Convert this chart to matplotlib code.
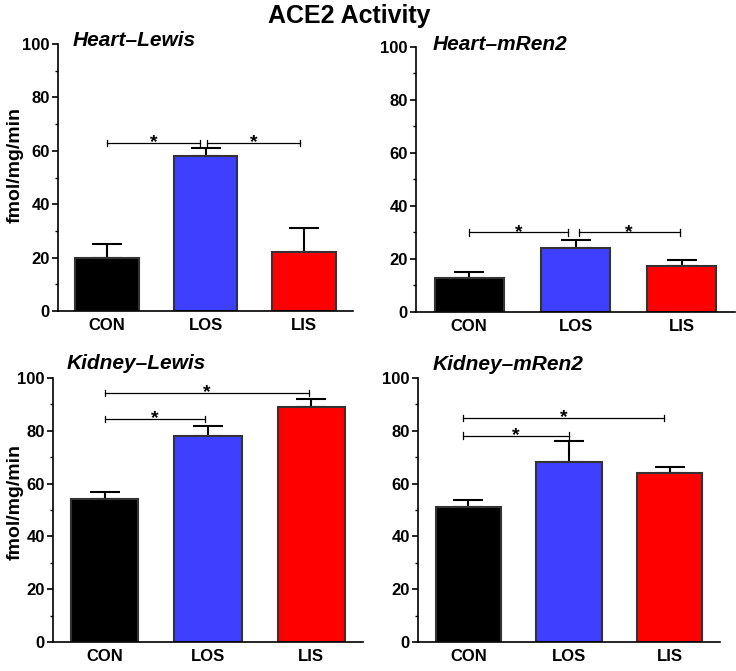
import matplotlib
matplotlib.use("Agg")
import matplotlib.pyplot as plt
from matplotlib.ticker import MultipleLocator

plt.rcParams['font.family'] = ['Liberation Sans', 'DejaVu Sans']

groups = ["CON", "LOS", "LIS"]
colors = ["#000000", "#3F3FFF", "#FF0000"]

panel_titles = ["Heart\u2013Lewis", "Heart\u2013mRen2", "Kidney\u2013Lewis", "Kidney\u2013mRen2"]

heart_lewis_mean = [20, 58, 22]
heart_lewis_err = [5, 3, 9]
heart_mren2_mean = [13, 24, 17.3]
heart_mren2_err = [2.2, 3, 2.3]
kidney_lewis_mean = [54, 78, 89]
kidney_lewis_err = [3, 4, 3]
kidney_mren2_mean = [51, 68, 64]
kidney_mren2_err = [2.7, 8.3, 2.2]

# significance brackets: (start group, end group, height)
heart_lewis_sig = [(0, 0.94, 63), (1.02, 1.96, 63)]
heart_mren2_sig = [(0, 0.93, 30), (1.03, 1.98, 30)]
kidney_lewis_sig = [(0, 0.97, 84.5), (0, 1.98, 94.3)]
kidney_mren2_sig = [(-0.05, 1.0, 78.2), (-0.05, 1.94, 84.8)]

means = [heart_lewis_mean, heart_mren2_mean, kidney_lewis_mean, kidney_mren2_mean]
errs = [heart_lewis_err, heart_mren2_err, kidney_lewis_err, kidney_mren2_err]
sigs = [heart_lewis_sig, heart_mren2_sig, kidney_lewis_sig, kidney_mren2_sig]

W, H = 736, 671
fig = plt.figure(figsize=(W / 100, H / 100), dpi=100)

# axes boxes in pixels: left, right, top, bottom
boxes = [(58, 353, 44, 311), (416, 735, 47, 312), (53, 363, 378, 642), (418, 720, 378, 642)]
title_pos = [(73, 41), (433, 45), (67, 363), (433, 365)]
ylabel_pos = [(15, 165), None, (15, 502), None]

for i in range(4):
    l, r, t, b = boxes[i]
    ax = fig.add_axes([l / W, 1 - b / H, (r - l) / W, (b - t) / H])
    x = list(range(3))
    ax.bar(x, means[i], width=0.65, color=colors, edgecolor="#333333", linewidth=1.5, zorder=2)
    ax.errorbar(x, means[i], yerr=[[0, 0, 0], errs[i]], fmt="none", ecolor="black",
                elinewidth=1.5, capsize=11, capthick=1.5, zorder=1)
    for (x0, x1, yh) in sigs[i]:
        ax.plot([x0, x1], [yh, yh], color="black", lw=0.9)
        ax.plot([x0, x0], [yh - 1.2, yh + 1.2], color="black", lw=0.9)
        ax.plot([x1, x1], [yh - 1.2, yh + 1.2], color="black", lw=0.9)
        ax.text((x0 + x1) / 2, yh - 1.6, "*", ha="center", va="baseline",
                fontsize=14, fontweight="bold")
    ax.set_xlim(-0.5, 2.5)
    ax.set_ylim(0, 100)
    ax.yaxis.set_major_locator(MultipleLocator(20))
    ax.yaxis.set_minor_locator(MultipleLocator(10))
    ax.set_xticks(x)
    ax.set_xticklabels(groups, fontsize=12, fontweight="bold")
    for lab in ax.get_yticklabels():
        lab.set_fontsize(12)
        lab.set_fontweight("bold")
    ax.tick_params(axis="y", which="major", length=4, width=1.2, pad=2)
    ax.tick_params(axis="y", which="minor", length=2, width=1)
    ax.tick_params(axis="x", length=0, pad=5)
    for s in ["top", "right"]:
        ax.spines[s].set_visible(False)
    for s in ["left", "bottom"]:
        ax.spines[s].set_linewidth(1.2)
    if ylabel_pos[i] is not None:
        lx, ly = ylabel_pos[i]
        fig.text(lx / W, 1 - ly / H, "fmol/mg/min", fontsize=14, fontweight="bold",
                 rotation=90, ha="center", va="center")
    tx, ty = title_pos[i]
    fig.text(tx / W, 1 - ty / H, panel_titles[i], fontsize=15, fontweight="bold",
             fontstyle="italic", ha="left", va="center")

fig.text(349 / W, 1 - 16 / H, "ACE2 Activity", fontsize=18, fontweight="bold",
         ha="center", va="center")

fig.savefig("out.png", dpi=100)
